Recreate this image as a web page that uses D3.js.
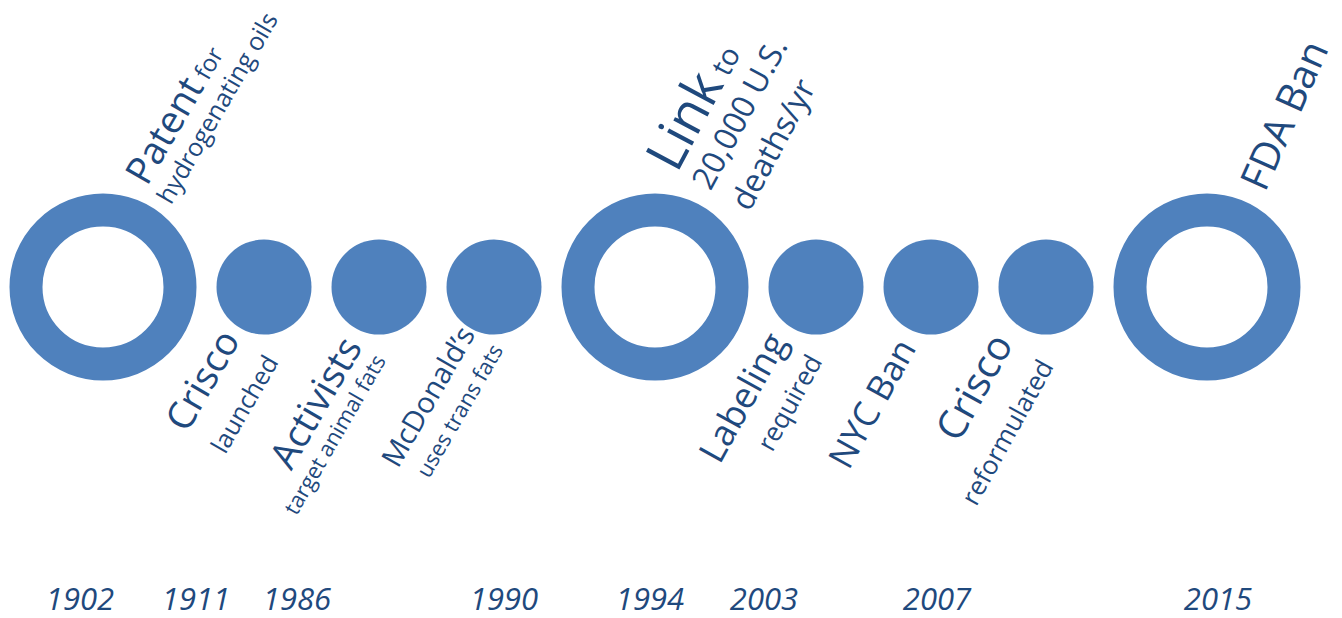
<!DOCTYPE html>
<html><head><meta charset="utf-8">
<script src="https://cdn.jsdelivr.net/npm/d3@7"></script>
<style>body{margin:0;background:#fff} svg{display:block}</style>
</head><body><svg id="chart" width="1342" height="618"></svg>
<script>
// ---- data ----
const eventTitles   = ["Patent","Crisco","Activists","McDonald’s","Link","Labeling","NYC Ban","Crisco","FDA Ban"];
const titleSuffixes = [" for","","",""," to","","","",""];
const eventDetails  = [["hydrogenating oils"],["launched"],["target animal fats"],["uses trans fats"],["20,000 U.S.","deaths/yr"],["required"],[],["reformulated"],[]];
const eventKinds    = ["major","minor","minor","minor","major","minor","minor","minor","major"];
const labelSides    = ["above","below","below","below","above","below","below","below","above"];
const yearLabels    = ["1902","1911","1986","1990","1994","2003","2007","2015"];
const yearEventIndex= [0,1,2,3,4,5,6,8];

// ---- layout / style ----
const W = 1342, H = 618, CY = 287, GAP = 20;
const BLUE = "#4F81BD", TEXT = "#1F497D";
const FONT = "'Open Sans', 'DejaVu Sans', sans-serif";
const labelAngles  = [-60,-60,-60,-60,-62,-61,-61,-61,-66];
const titleSizes   = [38,38,38,29,53,36,35,40,40];
const suffixSizes  = [24,0,0,0,29,0,0,0,0];
const detailSizes  = [25,25,22,22,32,26,0,26,0];
const labelAnchors = [[44,-100],[-23,53],[-16,60],[-18,47],[22,-113],[-28,55],[-14,61],[-32,57],[58,-94]];
const detailOffsets= [[[-4,30]],[[0,44]],[[0,27]],[[0,32]],[[0,38],[0,82]],[[0,40]],[],[[0,46]],[]];
const yearDx       = [-23,-68,-82,10,-5,-52,6,11];
const YEAR_BASE = 610;

const svg = d3.select("#chart");
const radius = d3.scaleOrdinal().domain(["major","minor"]).range([93.5,47.5]);
const ringInner = 60.5;

let acc = 0;
const units = eventKinds.map((k,i) => { if (i > 0) acc += radius(eventKinds[i-1]) + GAP + radius(k); return acc; });
const x = d3.scaleLinear().domain([0, units[units.length-1]]).range([103, 1207]);

const events = eventTitles.map((t,i) => ({
  i, title: t, suffix: titleSuffixes[i], details: eventDetails[i],
  kind: eventKinds[i], side: labelSides[i], cx: x(units[i])
}));

// circles
svg.append("g").selectAll("circle").data(events).join("circle")
  .attr("cx", d => d.cx).attr("cy", CY)
  .attr("r", d => d.kind === "major" ? (radius(d.kind) + ringInner) / 2 : radius(d.kind))
  .attr("fill", d => d.kind === "major" ? "none" : BLUE)
  .attr("stroke", d => d.kind === "major" ? BLUE : "none")
  .attr("stroke-width", d => d.kind === "major" ? radius(d.kind) - ringInner : 0);

// labels
const lg = svg.append("g").selectAll("g").data(events).join("g")
  .attr("transform", d => `translate(${d.cx + labelAnchors[d.i][0]},${CY + labelAnchors[d.i][1]}) rotate(${labelAngles[d.i]})`)
  .attr("font-family", FONT).attr("fill", TEXT);

lg.each(function(d) {
  const g = d3.select(this);
  const anchor = d.side === "above" ? "start" : "end";
  const t = g.append("text").attr("text-anchor", anchor);
  t.append("tspan").attr("font-size", titleSizes[d.i]).text(d.title);
  if (d.suffix) t.append("tspan").attr("font-size", suffixSizes[d.i]).text(d.suffix);
  d.details.forEach((line, k) => {
    g.append("text").attr("text-anchor", anchor)
      .attr("x", detailOffsets[d.i][k][0]).attr("y", detailOffsets[d.i][k][1])
      .attr("font-size", detailSizes[d.i]).text(line);
  });
});

// year labels
svg.append("g").selectAll("text").data(yearLabels).join("text")
  .attr("x", (y,k) => events[yearEventIndex[k]].cx + yearDx[k])
  .attr("y", YEAR_BASE)
  .attr("text-anchor", "middle")
  .attr("font-family", FONT).attr("font-style", "italic")
  .attr("font-size", 31).attr("fill", TEXT)
  .text(d => d);
</script></body></html>
